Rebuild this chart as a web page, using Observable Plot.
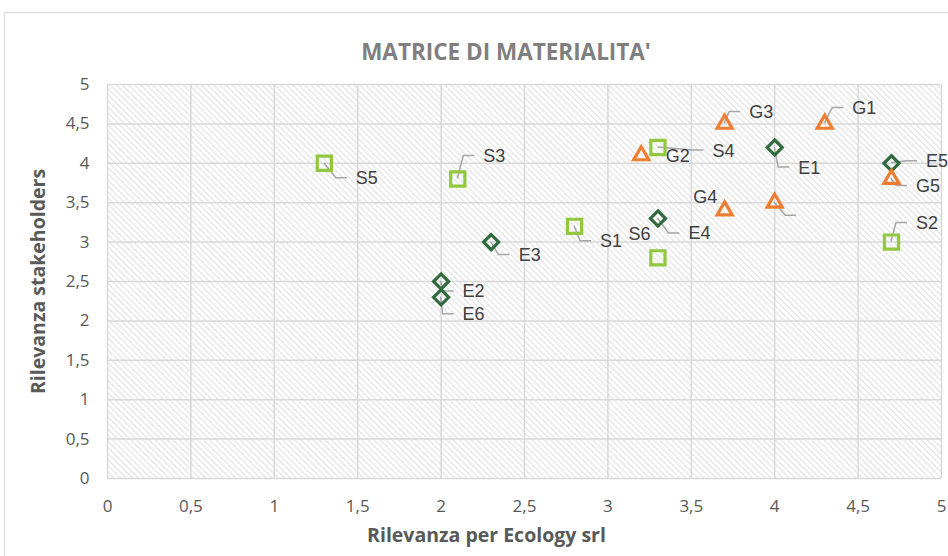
<!DOCTYPE html>
<html>
<head>
<meta charset="utf-8">
<script src="https://cdn.jsdelivr.net/npm/d3@7"></script>
<script src="https://cdn.jsdelivr.net/npm/@observablehq/plot@0.6"></script>
<style>
  html, body { margin: 0; padding: 0; background: #ffffff; }
  #wrap { position: relative; width: 948px; height: 556px; overflow: hidden; }
  #border { position: absolute; left: 4px; top: 12px; width: 980px; height: 600px; border: 1.5px solid #d9d9d9; box-sizing: border-box; }
  #title { position: absolute; left: 206px; width: 600px; top: 36px; text-align: center;
           font-family: "Open Sans", "Liberation Sans", sans-serif; font-weight: 700; font-size: 22.5px;
           color: #7f7f7f; line-height: 32px; }
  #chart { position: absolute; left: 0; top: 0; }
</style>
</head>
<body>
<div id="wrap">
  <div id="border"></div>
  <div id="chart"></div>
  <div id="title">MATRICE DI MATERIALITA'</div>
</div>
<script>
// ---- Data ----
const xTicks = [0, 0.5, 1, 1.5, 2, 2.5, 3, 3.5, 4, 4.5, 5];
const yTicks = [0, 0.5, 1, 1.5, 2, 2.5, 3, 3.5, 4, 4.5, 5];

// Social (green squares)
const socialIds = ["S1", "S2", "S3", "S4", "S5", "S6"];
const socialX   = [2.8, 4.7, 2.1, 3.3, 1.3, 3.3];
const socialY   = [3.2, 3.0, 3.8, 4.2, 4.0, 2.8];

// Environmental (dark green diamonds)
const envIds = ["E1", "E2", "E3", "E4", "E5", "E6"];
const envX   = [4.0, 2.0, 2.3, 3.3, 4.7, 2.0];
const envY   = [4.2, 2.5, 3.0, 3.3, 4.0, 2.3];

// Governance (orange triangles) - last point has an empty label
const govIds    = ["G1", "G2", "G3", "G4", "G5", "G6"];
const govLabels = ["G1", "G2", "G3", "G4", "G5", ""];
const govX      = [4.3, 3.2, 3.7, 3.7, 4.7, 4.0];
const govY      = [4.5, 4.1, 4.5, 3.4, 3.8, 3.5];

// ---- Layout: label offsets in pixels [dx, dy, hasLeader] ----
const labelOffsets = {
  S1: [26, 15, 1], S2: [25, -19, 1], S3: [26, -23, 1], S4: [55, 3, 1], S5: [32, 15, 1], S6: [-29, -24, 0],
  E1: [24, 20, 1], E2: [22, 10, 1], E3: [28, 13, 1], E4: [31, 15, 1], E5: [35, -2, 1], E6: [22, 17, 1],
  G1: [28, -16, 1], G2: [25, 1, 0], G3: [25, -12, 1], G4: [-31, -14, 0], G5: [25, 7, 1], G6: [31, 13, 1]
};

const social = socialIds.map((id, i) => ({id, label: id, x: socialX[i], y: socialY[i]}));
const env = envIds.map((id, i) => ({id, label: id, x: envX[i], y: envY[i]}));
const gov = govIds.map((id, i) => ({id, label: govLabels[i], x: govX[i], y: govY[i]}));
const all = [...social, ...env, ...gov];

const fmt = d => String(d).replace(".", ",");
const FONT = "'Open Sans', 'Liberation Sans', Arial, sans-serif";
const LABEL_FONT = "'Liberation Sans', Arial, sans-serif";

// Custom label mark: positions via the plot's own scales, plus pixel offsets
function labelsMark(data) {
  return Plot.dot(data, {
    x: "x", y: "y", r: 0,
    render: (index, scales) => {
      const g = d3.create("svg:g");
      for (const d of data) {
        const cx = scales.x(d.x), cy = scales.y(d.y);
        const [dx, dy, leader] = labelOffsets[d.id];
        const tx = cx + dx, ty = cy + dy;
        if (leader) {
          g.append("path")
            .attr("d", `M${cx},${cy}L${tx - 20},${ty}L${tx - 9},${ty}`)
            .attr("fill", "none").attr("stroke", "#a6a6a6").attr("stroke-width", 1.5);
        }
        if (d.label) {
          g.append("text")
            .attr("x", tx).attr("y", ty).attr("dy", "0.36em")
            .attr("text-anchor", "start")
            .style("font-family", LABEL_FONT).style("font-size", "18px")
            .attr("fill", "#404040").text(d.label);
        }
      }
      return g.node();
    }
  });
}

const chart = Plot.plot({
  width: 948,
  height: 556,
  marginLeft: 107,
  marginRight: 7,
  marginTop: 84,
  marginBottom: 78,
  style: { fontFamily: FONT, background: "transparent", overflow: "visible" },
  x: { domain: [0, 5], label: null },
  y: { domain: [0, 5], label: null },
  marks: [
    Plot.frame({ fill: "url(#hatch)", stroke: null }),
    Plot.gridX(xTicks, { stroke: "#d9d9d9", strokeOpacity: 1, strokeWidth: 1.5 }),
    Plot.gridY(yTicks, { stroke: "#d9d9d9", strokeOpacity: 1, strokeWidth: 1.5 }),
    Plot.axisX(xTicks, { tickSize: 0, tickPadding: 21, tickFormat: fmt, fontSize: 17, fill: "#595959", label: null }),
    Plot.axisY(yTicks, { tickSize: 0, tickPadding: 18, tickFormat: fmt, fontSize: 17, fill: "#595959", label: null }),
    Plot.text(["Rilevanza per Ecology srl"], { frameAnchor: "bottom", dy: 57, dx: -38, lineAnchor: "middle", textAnchor: "middle",
      fontSize: 19.5, fontWeight: "bold", fill: "#595959" }),
    Plot.text(["Rilevanza stakeholders"], { frameAnchor: "left", dx: -69, rotate: -90, lineAnchor: "middle", textAnchor: "middle",
      fontSize: 19.5, fontWeight: "bold", fill: "#595959" }),
    labelsMark(all),
    Plot.dot(social, { x: "x", y: "y", symbol: "square", r: 8, stroke: "#92C83E", strokeWidth: 3.2, fill: "none" }),
    Plot.dot(env, { x: "x", y: "y", symbol: "diamond2", r: 6.8, stroke: "#2F6B3C", strokeWidth: 3.2, fill: "none" }),
    Plot.dot(gov, { x: "x", y: "y", symbol: "triangle2", r: 7.2, stroke: "#ED7D31", strokeWidth: 3.2, fill: "none", strokeLinejoin: "miter" })
  ]
});

d3.select(chart).insert("defs", ":first-child").html(
  `<pattern id="hatch" patternUnits="userSpaceOnUse" width="4.3" height="4.3" patternTransform="rotate(-45)">
     <rect width="4.3" height="4.3" fill="#ffffff"/>
     <line x1="0.7" y1="0" x2="0.7" y2="4.3" stroke="#dedede" stroke-width="1"/>
   </pattern>`
);

document.getElementById("chart").appendChild(chart);
</script>
</body>
</html>
